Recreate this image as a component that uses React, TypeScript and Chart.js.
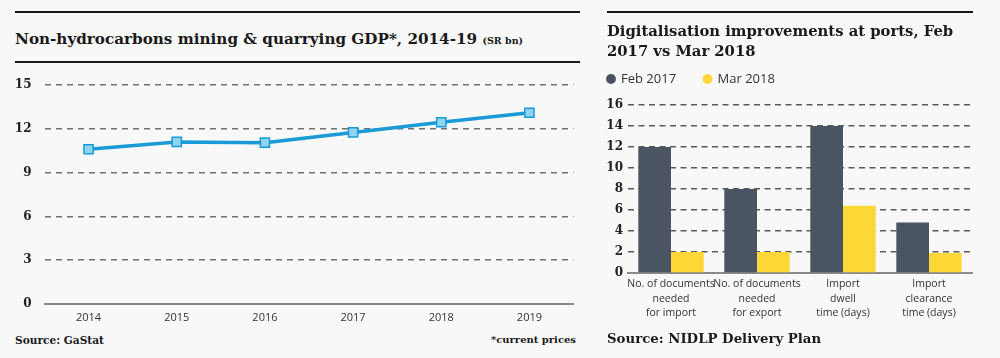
import React, { useEffect, useRef } from "react";
import { Chart, registerables } from "chart.js";

Chart.register(...registerables);

// ---------- Data ----------
const gdpYears = ["2014", "2015", "2016", "2017", "2018", "2019"];
const gdpValues = [10.6, 11.1, 11.05, 11.75, 12.45, 13.1];
const gdpAxisMax = 15;
const gdpAxisStep = 3;

const portCategories = [
  ["No. of documents", "needed", "for import"],
  ["No. of documents", "needed", "for export"],
  ["Import", "dwell", "time (days)"],
  ["Import", "clearance", "time (days)"],
];
const seriesNames = ["Feb 2017", "Mar 2018"];
const feb2017Values = [12, 8, 14, 4.8];
const mar2018Values = [2, 2, 6.4, 1.9];
const portAxisMax = 16;
const portAxisStep = 2;

// ---------- Styles ----------
const BG = "#f8f8f9";
const SERIF = "'DejaVu Serif', 'Liberation Serif', serif";
const TICK_SERIF = "'DejaVu Serif', serif";
const SANS = "'Open Sans', 'Noto Sans', sans-serif";
const LINE_BLUE = "#1a9ad6";
const MARKER_FILL = "#8fd3ef";
const DARK = "#4a5462";
const YELLOW = "#fcd735";

const legendGap = {
  id: "legendGap",
  beforeInit(chart: any) {
    const leg = chart.legend;
    if (!leg || leg._gapPatched) return;
    const orig = leg.fit;
    leg.fit = function () {
      orig.call(this);
      this.height += 9.5;
    };
    leg._gapPatched = true;
  },
};

export default function App() {
  const lineRef = useRef<HTMLCanvasElement | null>(null);
  const barRef = useRef<HTMLCanvasElement | null>(null);

  useEffect(() => {
    if (!lineRef.current || !barRef.current) return;

    const lineChart = new Chart(lineRef.current, {
      type: "line",
      data: {
        labels: gdpYears,
        datasets: [
          {
            data: gdpValues,
            borderColor: LINE_BLUE,
            borderWidth: 3.5,
            pointStyle: "rect",
            pointRadius: 6.5,
            pointBackgroundColor: MARKER_FILL,
            pointBorderColor: LINE_BLUE,
            pointBorderWidth: 1.5,
            tension: 0,
          },
        ],
      },
      options: {
        animation: false,
        responsive: false,
        maintainAspectRatio: false,
        layout: { padding: { top: 15, right: 16.5, left: 0, bottom: 0 } },
        plugins: { legend: { display: false }, tooltip: { enabled: false } },
        scales: {
          x: {
            offset: true,
            grid: { display: false, drawTicks: false },
            border: { display: true, color: "#8a8a8a", width: 2 },
            ticks: {
              font: { family: SANS, size: 11 },
              color: "#333",
              padding: 7,
              maxRotation: 0,
            },
            afterFit: (s: any) => {
              s.height = 26;
            },
          },
          y: {
            min: 0,
            max: gdpAxisMax,
            ticks: {
              stepSize: gdpAxisStep,
              font: { family: TICK_SERIF, size: 12, weight: "bold" },
              color: "#222",
              padding: 13,
            },
            grid: {
              drawTicks: false,
              lineWidth: 1.5,
              color: (c: any) => (c.tick && c.tick.value === 0 ? "rgba(0,0,0,0)" : "#707070"),
            },
            border: { display: false, dash: [6, 5] },
            afterFit: (s: any) => {
              s.width = 44.5;
              s.paddingTop = 0;
              s.paddingBottom = 0;
            },
          },
        },
      },
    } as any);

    const barChart = new Chart(barRef.current, {
      type: "bar",
      data: {
        labels: portCategories,
        datasets: [
          { label: seriesNames[0], data: feb2017Values, backgroundColor: DARK },
          { label: seriesNames[1], data: mar2018Values, backgroundColor: YELLOW },
        ],
      },
      options: {
        animation: false,
        responsive: false,
        maintainAspectRatio: false,
        layout: { padding: { top: 4.5, right: 18, left: 7.5, bottom: 1 } },
        datasets: { bar: { categoryPercentage: 0.76, barPercentage: 1.0 } },
        plugins: {
          tooltip: { enabled: false },
          legend: {
            display: true,
            position: "top",
            align: "start",
            labels: {
              usePointStyle: true,
              pointStyle: "circle",
              boxWidth: 7,
              boxHeight: 7,
              padding: 28,
              color: "#333",
              font: { family: SANS, size: 13 },
            },
          },
        },
        scales: {
          x: {
            grid: { display: false, drawTicks: false },
            border: { display: true, color: "#8a8a8a", width: 2 },
            ticks: {
              font: { family: SANS, size: 10.5, lineHeight: "14.5px" },
              color: "#333",
              padding: 4,
              maxRotation: 0,
              autoSkip: false,
            },
            afterFit: (s: any) => {
              s.height = 58;
            },
          },
          y: {
            min: 0,
            max: portAxisMax,
            ticks: {
              stepSize: portAxisStep,
              font: { family: TICK_SERIF, size: 12, weight: "bold" },
              color: "#222",
              padding: 5,
            },
            grid: {
              drawTicks: false,
              lineWidth: 1.5,
              color: (c: any) => (c.tick && c.tick.value === 0 ? "rgba(0,0,0,0)" : "#5a5a5a"),
            },
            border: { display: false, dash: [6, 4.5] },
            afterFit: (s: any) => {
              s.width = 48.5;
            },
          },
        },
      },
      plugins: [legendGap],
    } as any);

    return () => {
      lineChart.destroy();
      barChart.destroy();
    };
  }, []);

  const abs = (o: React.CSSProperties): React.CSSProperties => ({ position: "absolute", margin: 0, ...o });

  return (
    <div
      style={{
        position: "absolute",
        left: 0,
        top: 0,
        width: 1000,
        height: 358,
        background: BG,
        overflow: "hidden",
        fontFamily: SERIF,
        color: "#1a1a1a",
      }}
    >
      {/* Left panel */}
      <div style={abs({ left: 15, top: 11, width: 565, height: 2, background: "#1a1a1a" })} />
      <div
        style={abs({
          left: 15,
          top: 28.5,
          fontSize: 15.2,
          lineHeight: "20px",
          fontWeight: "bold",
          whiteSpace: "nowrap",
        })}
      >
        Non-hydrocarbons mining &amp; quarrying GDP*, 2014-19{" "}
        <span style={{ fontSize: 9.5 }}>(SR bn)</span>
      </div>
      <div style={abs({ left: 15, top: 61, width: 565, height: 1.5, background: "#1a1a1a" })} />
      <canvas ref={lineRef} width={590} height={260} style={abs({ left: 0, top: 70, width: 590, height: 260 })} />
      <div style={abs({ left: 15, top: 333, fontSize: 10.6, lineHeight: "14px", fontWeight: "bold" })}>
        Source: GaStat
      </div>
      <div
        style={abs({
          right: 424,
          top: 333,
          fontSize: 10,
          lineHeight: "14px",
          fontWeight: "bold",
          whiteSpace: "nowrap",
        })}
      >
        *current prices
      </div>

      {/* Right panel */}
      <div style={abs({ left: 607, top: 11, width: 366, height: 2, background: "#1a1a1a" })} />
      <div
        style={abs({
          left: 607,
          top: 21,
          width: 390,
          fontSize: 14.8,
          lineHeight: "20px",
          fontWeight: "bold",
        })}
      >
        Digitalisation improvements at ports, Feb
        <br />
        2017 vs Mar 2018
      </div>
      <canvas ref={barRef} width={418} height={292} style={abs({ left: 572, top: 40, width: 418, height: 292 })} />
      <div
        style={abs({
          left: 607,
          top: 330,
          fontSize: 13.3,
          lineHeight: "18px",
          fontWeight: "bold",
          whiteSpace: "nowrap",
        })}
      >
        Source: NIDLP Delivery Plan
      </div>
    </div>
  );
}
